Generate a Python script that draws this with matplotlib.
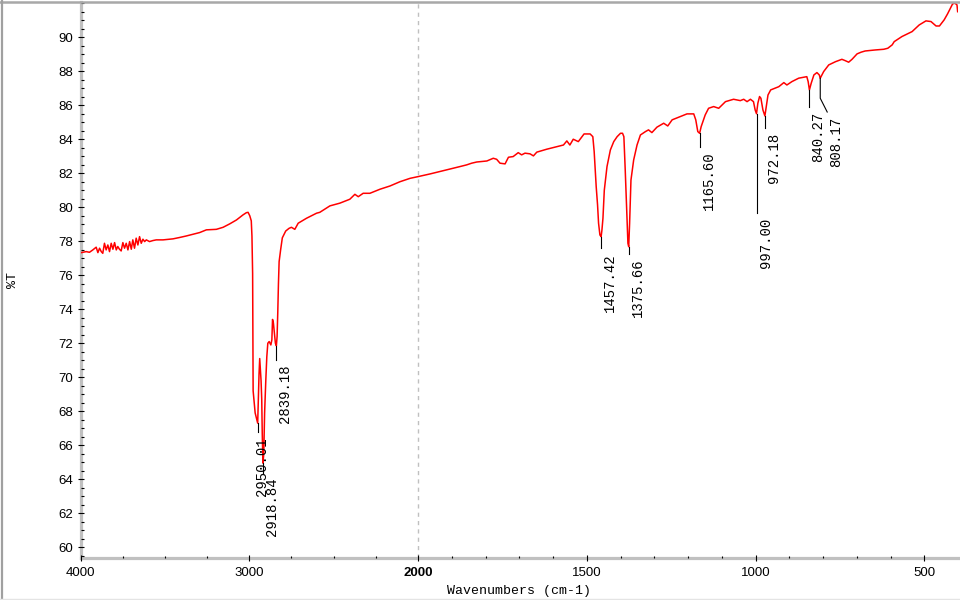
import numpy as np
import matplotlib
matplotlib.use("Agg")
import matplotlib.pyplot as plt
from matplotlib.lines import Line2D

plt.rcParams['font.family'] = ['Liberation Sans', 'DejaVu Sans']

# ---------------- data ----------------
wavenumber = [
    3996, 3966, 3947, 3927, 3907, 3897, 3887, 3877, 3868, 3858, 3848, 3838, 3828, 3818,
    3808, 3798, 3788, 3779, 3769, 3759, 3749, 3739, 3729, 3719, 3709, 3699, 3690, 3680,
    3670, 3660, 3650, 3640, 3630, 3620, 3610, 3591, 3571, 3551, 3511, 3452, 3413, 3373,
    3333, 3294, 3254, 3195, 3155, 3116, 3076, 3037, 3017, 3007, 2997, 2988, 2984, 2980,
    2977, 2965, 2955, 2950.01, 2946, 2942, 2938, 2934, 2930, 2926, 2923, 2920, 2918.84,
    2914, 2909, 2902, 2896, 2890, 2882, 2872, 2866, 2862, 2857, 2851, 2845, 2839.18, 2835,
    2831, 2827, 2823, 2814, 2804, 2784, 2764, 2750, 2730, 2710, 2700, 2661, 2641, 2601,
    2582, 2522, 2463, 2404, 2374, 2354, 2325, 2285, 2225, 2166, 2107, 2047, 2000, 1964,
    1935, 1905, 1876, 1856, 1841, 1826, 1796, 1777, 1767, 1757, 1742, 1732, 1718, 1703,
    1693, 1683, 1668, 1658, 1648, 1619, 1589, 1569, 1559, 1550, 1540, 1525, 1508, 1490,
    1482, 1478, 1472, 1468, 1465, 1461, 1457.42, 1455, 1452, 1448, 1440, 1430, 1420, 1410,
    1400, 1394, 1390, 1386, 1382, 1378, 1375.66, 1373, 1369, 1361, 1351, 1341, 1326, 1317,
    1307, 1292, 1272, 1260, 1247, 1223, 1203, 1183, 1177, 1171, 1165.60, 1161, 1154, 1149,
    1139, 1124, 1109, 1089, 1065, 1045, 1035, 1025, 1015, 1006, 1001, 997.00, 993, 988,
    984, 978, 972.18, 968, 963, 955, 931, 916, 907, 892, 872, 848, 844, 840.27, 835, 827,
    818, 811, 808.17, 798, 783, 763, 744, 734, 724, 714, 699, 687, 675, 645, 620, 608, 595,
    589, 566, 536, 515, 495, 480, 465, 455, 441, 431, 416, 409, 403, 401,
]
transmittance = [
    77.33, 77.39, 77.35, 77.49, 77.65, 77.33, 77.59, 77.39, 77.29, 77.88, 77.49, 77.78, 77.39, 77.88,
    77.53, 77.92, 77.49, 77.69, 77.53, 77.43, 77.92, 77.59, 77.88, 77.49, 77.98, 77.53, 78.08, 77.59,
    78.18, 77.78, 78.27, 77.88, 78.12, 77.98, 78.08, 77.98, 78.04, 78.08, 78.08, 78.14, 78.22, 78.31,
    78.41, 78.51, 78.67, 78.70, 78.82, 79.02, 79.25, 79.55, 79.68, 79.70, 79.50, 79.20, 78.30, 76.10,
    69.20, 67.90, 67.50, 67.30, 68.70, 70.20, 71.10, 70.40, 69.80, 68.70, 66.70, 65.50, 64.95,
    65.50, 67.90, 69.80, 71.20, 72.00, 72.10, 71.90, 72.20, 73.40, 73.20, 72.60, 72.00, 71.85, 72.40,
    73.80, 75.50, 76.80, 77.50, 78.20, 78.60, 78.76, 78.82, 78.70, 79.06, 79.12, 79.35, 79.45, 79.65,
    79.70, 80.08, 80.24, 80.47, 80.76, 80.62, 80.82, 80.82, 81.06, 81.25, 81.50, 81.70, 81.80, 81.96,
    82.10, 82.24, 82.39, 82.49, 82.59, 82.66, 82.72, 82.88, 82.82, 82.59, 82.55, 82.94, 82.98, 83.21,
    83.08, 83.18, 83.14, 83.02, 83.24, 83.41, 83.56, 83.66, 83.90, 83.66, 84.00, 83.86, 84.31, 84.31,
    84.15, 83.27, 81.21, 80.14, 79.06, 78.37, 78.27, 78.66, 79.35, 81.00, 82.39, 83.37, 83.86, 84.15,
    84.35, 84.35, 84.15, 82.20, 80.04, 77.88, 77.68, 79.06, 81.60, 82.78, 83.66, 84.25, 84.45, 84.55,
    84.39, 84.71, 84.94, 84.78, 85.14, 85.33, 85.49, 85.49, 85.14, 84.45, 84.35, 84.74, 85.14, 85.43,
    85.82, 85.92, 85.82, 86.21, 86.35, 86.27, 86.35, 86.21, 86.35, 86.21, 85.72, 85.50, 86.12, 86.51,
    86.41, 85.72, 85.37, 85.92, 86.60, 86.90, 87.09, 87.33, 87.19, 87.39, 87.59, 87.68, 87.39, 86.90, 87.29, 87.78,
    87.92, 87.78, 87.59, 87.98, 88.37, 88.56, 88.70, 88.62, 88.53, 88.70, 89.02, 89.12, 89.19, 89.25, 89.29, 89.35, 89.55,
    89.74, 90.04, 90.33, 90.72, 90.96, 90.92, 90.66, 90.66, 91.02, 91.37, 91.96, 92.00, 91.90, 91.50,
]

peak_wn = [2950.01, 2918.84, 2839.18, 1457.42, 1375.66, 1165.60, 997.00, 972.18, 840.27, 808.17]
peak_labels = ["2950.01", "2918.84", "2839.18", "1457.42", "1375.66",
               "1165.60", "997.00", "972.18", "840.27", "808.17"]
leader_end_T = [66.76, 64.37, 71.03, 77.60, 77.25, 83.55, 79.66, 84.66, 85.90, 85.60]
leader_bend_T = [None, None, None, None, None, None, None, None, None, 86.41]
leader_end_wn = [2950.01, 2918.84, 2839.18, 1457.42, 1375.66, 1165.60, 997.00, 972.18, 840.27, 787.5]
label_dx_pt = [3.0, 6.8, 6.5, 6.5, 6.5, 6.5, 6.5, 6.5, 6.5, 6.5]

xtick_major = [4000, 3000, 2000, 1500, 1000, 500]
xtick_labels = ["4000", "3000", "2000", "1500", "1000", "500"]
xtick_minor = [3750, 3500, 3250, 2750, 2500, 2250,
               1900, 1800, 1700, 1600, 1400, 1300, 1200, 1100,
               900, 800, 700, 600]
ytick_major = list(range(60, 92, 2))

# ---------------- figure ----------------
W, H = 960, 600
AX_L, AX_R = 80.5, 958
fig = plt.figure(figsize=(W / 100, H / 100), dpi=100)
ax = fig.add_axes([AX_L / W, 1 - 558 / H, (AX_R - AX_L) / W, (558 - 1.5) / H])


def fwd(w):
    w = np.asarray(w, dtype=float)
    return np.where(w >= 2000, w, 2 * w - 2000)


def inv(u):
    u = np.asarray(u, dtype=float)
    return np.where(u >= 2000, u, (u + 2000) / 2)


ax.set_xscale('function', functions=(fwd, inv))
ax.set_xlim(4000, 400)
ax.set_ylim(59.37, 92.1)

ax.axvline(2000, color='#c0c0c0', lw=1.0, ls=(0, (3, 3)), zorder=1)

ax.plot(wavenumber, transmittance, color='#ff0000', lw=1.1, zorder=3)

wn_arr = np.array(wavenumber)[::-1]
t_arr = np.array(transmittance)[::-1]
for pw, lab, endT, bendT, endW, dx in zip(peak_wn, peak_labels, leader_end_T,
                                           leader_bend_T, leader_end_wn, label_dx_pt):
    tip = float(np.interp(pw, wn_arr, t_arr))
    if bendT is None:
        xs, ys = [pw, pw], [tip, endT]
    else:
        xs, ys = [pw, pw, endW], [tip, bendT, endT]
    ax.plot(xs, ys, color='black', lw=0.8, zorder=4)
    ax.annotate(lab, xy=(endW, endT), xytext=(dx, -3.5), textcoords='offset points',
                rotation=90, ha='center', va='top', fontsize=10,
                family=['Liberation Mono', 'DejaVu Sans Mono'], color='black', zorder=5)

# ticks
ax.set_xticks(xtick_major)
ax.set_xticklabels(xtick_labels)
ax.set_xticks(xtick_minor, minor=True)
ax.set_yticks(ytick_major)
ax.set_yticks(np.arange(59.5, 92.1, 0.5), minor=True)
for t in ax.get_xticklabels():
    if t.get_text() == "2000":
        t.set_fontweight('bold')

ax.tick_params(axis='both', which='major', direction='inout', length=4, width=0.8,
               color='black', labelsize=9.5)
ax.tick_params(axis='both', which='minor', direction='in', length=1.8, width=0.8,
               color='black')
ax.tick_params(axis='x', which='major', pad=4.5)
ax.tick_params(axis='y', which='major', pad=3.5)

for s in ['top', 'right']:
    ax.spines[s].set_visible(False)
for s in ['left', 'bottom']:
    ax.spines[s].set_color('#c0c0c0')
    ax.spines[s].set_linewidth(2.3)
    ax.spines[s].set_zorder(0.5)

ax.set_xlabel("Wavenumbers (cm-1)", family=['Liberation Mono', 'DejaVu Sans Mono'],
              fontsize=9.5, labelpad=4)
ax.set_ylabel("%T", family=['Liberation Mono', 'DejaVu Sans Mono'], fontsize=9.5)
ax.yaxis.set_label_coords((19 - AX_L) / (AX_R - AX_L), 0.5)

# window frame lines
fig.add_artist(Line2D([0, 1], [1 - 2 / H, 1 - 2 / H], color='#a8a8a8', lw=1.8))
fig.add_artist(Line2D([2 / W, 2 / W], [0, 1], color='#a0a0a0', lw=1.6))
fig.add_artist(Line2D([0, 1], [1 - 598.5 / H, 1 - 598.5 / H], color='#e4e4e4', lw=1.0))

fig.savefig("out.png", dpi=100)
